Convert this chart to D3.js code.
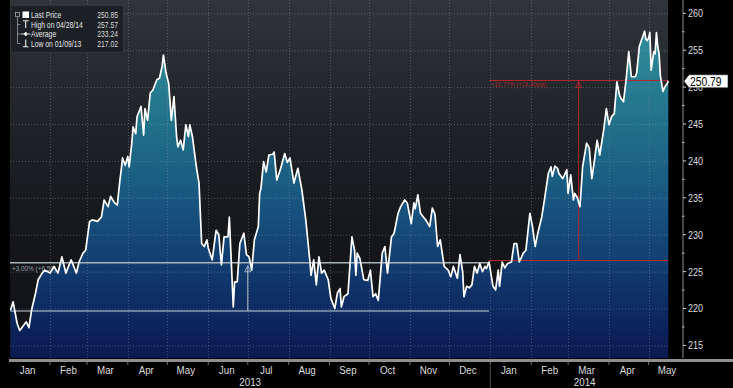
<!DOCTYPE html>
<html lang="en">
<head>
<meta charset="UTF-8">
<title>Last Price 2013-2014</title>
<script src="https://cdn.jsdelivr.net/npm/d3@7"></script>
<style>
    body { margin: 0; background: #000; }
    svg {
        display: block;
        font-family: "Liberation Sans", Arial, sans-serif;
    }
</style>
</head>
<body>
<svg id="chart" width="733" height="388"></svg>
<script>
    // daily closes
    const dates = [
        "2013-01-02","2013-01-04","2013-01-07","2013-01-09","2013-01-11","2013-01-14","2013-01-16","2013-01-18",
        "2013-01-21","2013-01-23","2013-01-26","2013-01-28","2013-02-01","2013-02-04","2013-02-07","2013-02-10",
        "2013-02-13","2013-02-17","2013-02-21","2013-02-23","2013-02-26","2013-02-28","2013-03-03","2013-03-05",
        "2013-03-09","2013-03-12","2013-03-14","2013-03-17","2013-03-19","2013-03-22","2013-03-24","2013-03-26",
        "2013-03-27","2013-03-28","2013-03-30","2013-04-01","2013-04-02","2013-04-04","2013-04-05","2013-04-07",
        "2013-04-08","2013-04-10","2013-04-11","2013-04-13","2013-04-14","2013-04-16","2013-04-18","2013-04-20",
        "2013-04-23","2013-04-25","2013-04-27","2013-04-28","2013-04-30","2013-05-02","2013-05-04","2013-05-06",
        "2013-05-08","2013-05-09","2013-05-11","2013-05-13","2013-05-15","2013-05-17","2013-05-18","2013-05-20",
        "2013-05-23","2013-05-25","2013-05-26","2013-05-27","2013-05-29","2013-05-31","2013-06-01","2013-06-04",
        "2013-06-06","2013-06-07","2013-06-09","2013-06-11","2013-06-13","2013-06-16","2013-06-17","2013-06-20",
        "2013-06-21","2013-06-23","2013-06-25","2013-06-28","2013-06-30","2013-07-02","2013-07-04","2013-07-06",
        "2013-07-09","2013-07-10","2013-07-11","2013-07-13","2013-07-15","2013-07-17","2013-07-20","2013-07-21",
        "2013-07-23","2013-07-26","2013-07-29","2013-07-31","2013-08-02","2013-08-05","2013-08-08","2013-08-11",
        "2013-08-14","2013-08-17","2013-08-18","2013-08-20","2013-08-22","2013-08-24","2013-08-26","2013-08-28",
        "2013-08-31","2013-09-02","2013-09-05","2013-09-07","2013-09-09","2013-09-10","2013-09-12","2013-09-15",
        "2013-09-18","2013-09-20","2013-09-21","2013-09-22","2013-09-24","2013-09-27","2013-09-30","2013-10-02",
        "2013-10-04","2013-10-06","2013-10-08","2013-10-11","2013-10-13","2013-10-15","2013-10-18","2013-10-20",
        "2013-10-23","2013-10-25","2013-10-28","2013-10-30","2013-11-02","2013-11-04","2013-11-05","2013-11-07",
        "2013-11-09","2013-11-13","2013-11-16","2013-11-18","2013-11-20","2013-11-22","2013-11-24","2013-11-27",
        "2013-11-30","2013-12-02","2013-12-04","2013-12-07","2013-12-09","2013-12-11","2013-12-12","2013-12-14",
        "2013-12-16","2013-12-18","2013-12-20","2013-12-22","2013-12-24","2013-12-26","2013-12-28","2013-12-29",
        "2013-12-31","2014-01-03","2014-01-05","2014-01-07","2014-01-08","2014-01-10","2014-01-12","2014-01-14",
        "2014-01-17","2014-01-19","2014-01-21","2014-01-23","2014-01-26","2014-01-28","2014-01-31","2014-02-02",
        "2014-02-04","2014-02-06","2014-02-09","2014-02-11","2014-02-14","2014-02-16","2014-02-17","2014-02-19",
        "2014-02-21","2014-02-22","2014-02-25","2014-02-28","2014-03-01","2014-03-03","2014-03-05","2014-03-06",
        "2014-03-08","2014-03-10","2014-03-12","2014-03-15","2014-03-17","2014-03-19","2014-03-21","2014-03-23",
        "2014-03-25","2014-03-28","2014-03-30","2014-04-01","2014-04-03","2014-04-05","2014-04-07","2014-04-09",
        "2014-04-10","2014-04-12","2014-04-14","2014-04-16","2014-04-18","2014-04-21","2014-04-22","2014-04-24",
        "2014-04-28","2014-04-29","2014-04-30","2014-05-01","2014-05-02","2014-05-03","2014-05-05","2014-05-06",
        "2014-05-07","2014-05-08","2014-05-09","2014-05-10","2014-05-12","2014-05-13","2014-05-14","2014-05-15",
        "2014-05-16"
    ];
    const prices = [
        219.8, 220.9, 218.0, 217.02, 217.5, 218.2, 217.4, 219.8,
        222.1, 223.9, 224.8, 225.2, 224.8, 225.7, 224.8, 227.0,
        224.8, 226.6, 224.8, 226.3, 227.5, 227.9, 231.8, 232.0,
        231.8, 232.4, 234.7, 233.8, 235.2, 234.3, 234.0, 237.4,
        238.8, 240.4, 239.4, 240.6, 239.2, 242.4, 244.6, 243.7,
        246.0, 246.9, 247.4, 243.5, 247.1, 245.5, 249.2, 249.6,
        251.0, 251.2, 252.8, 254.35, 251.9, 250.5, 245.5, 248.7,
        243.3, 241.9, 242.8, 241.5, 244.9, 243.3, 244.9, 243.3,
        239.2, 237.0, 232.9, 228.8, 228.4, 229.3, 228.2, 226.6,
        229.3, 230.6, 230.0, 225.9, 229.7, 229.7, 232.4, 220.2,
        223.6, 223.6, 228.8, 230.2, 227.3, 227.0, 225.2, 229.3,
        231.1, 235.6, 236.3, 239.9, 238.5, 240.8, 240.9, 241.2,
        237.4, 239.0, 241.0, 239.8, 240.4, 237.0, 239.0, 236.1,
        232.0, 226.6, 224.5, 226.6, 223.2, 227.0, 224.8, 225.2,
        223.9, 221.4, 220.0, 222.1, 222.7, 220.2, 221.6, 222.0,
        229.7, 227.9, 224.5, 227.5, 226.8, 223.9, 223.8, 225.2,
        221.6, 222.0, 221.1, 227.5, 228.4, 224.8, 229.7, 230.2,
        232.9, 233.8, 234.7, 234.3, 231.5, 234.3, 233.5, 235.4,
        232.9, 232.0, 231.1, 233.6, 232.8, 228.4, 229.3, 225.7,
        225.2, 224.3, 225.7, 224.1, 227.3, 225.0, 221.6, 223.0,
        222.8, 223.2, 225.7, 224.8, 226.1, 225.0, 225.7, 225.4,
        226.3, 223.0, 222.5, 225.2, 223.0, 226.3, 225.5, 226.1,
        226.3, 228.8, 228.8, 226.3, 227.5, 227.9, 232.9, 231.1,
        228.4, 230.2, 232.4, 234.7, 238.3, 239.2, 237.9, 239.3,
        239.0, 238.3, 237.6, 238.8, 235.6, 238.1, 234.7, 235.6,
        235.0, 233.8, 239.2, 242.4, 241.8, 237.6, 240.1, 242.8,
        240.8, 244.2, 247.1, 244.9, 246.0, 246.4, 250.7, 248.9,
        248.5, 248.0, 251.0, 254.8, 251.4, 251.4, 251.9, 255.5,
        257.57, 256.5, 256.3, 256.6, 257.4, 252.3, 254.8, 254.5,
        257.4, 255.5, 254.5, 251.5, 249.4, 249.9, 250.2, 250.4,
        250.85
    ];

    const yTicks = [215, 220, 225, 230, 235, 240, 245, 250, 255, 260];
    const monthLabels = ["Jan", "Feb", "Mar", "Apr", "May", "Jun", "Jul", "Aug", "Sep", "Oct", "Nov", "Dec",
                         "Jan", "Feb", "Mar", "Apr", "May"];
    const yearLabels = ["2013", "2014"];
    const legendNames = ["Last Price", "High on 04/28/14", "Average", "Low on 01/09/13"];
    const legendValues = ["250.85", "257.57", "233.24", "217.02"];
    const lastTag = 250.79;

    // measurement tools drawn on the chart: [start date, end date, marker date, low, high, label]
    const whiteMeasure = ["2013-01-02", "2013-12-31", "2013-07-01", 219.66, 226.2, "+3.00% (+6.59)"];
    const redMeasure = ["2013-12-31", "2014-05-16", "2014-03-09", 226.5, 250.9, "+10.77% (+24.40pts)"];

    const parse = d3.timeParse("%Y-%m-%d");
    const data = dates.map((d, i) => ({date: parse(d), value: prices[i]}));

    const svg = d3.select("#chart");
    const plotLeft = 10, plotRight = 668, plotBottom = 358, axisX = 683;

    // the terminal font is narrow, squeeze the regular one
    const narrow = (px, py, k) => `translate(${px},${py}) scale(${k},1)`;

    const x = d3.scaleTime()
        .domain([parse(dates[0]), parse(dates[dates.length - 1])])
        .range([10.5, 668.3]);
    const y = d3.scaleLinear()
        .domain([215, 260])
        .range([345.4, 13.3]);

    // gradients
    const defs = svg.append("defs");
    const bgGrad = defs.append("linearGradient").attr("id", "bgGrad")
        .attr("gradientUnits", "userSpaceOnUse")
        .attr("x1", 0).attr("y1", 0).attr("x2", 0).attr("y2", plotBottom);
    [[0, "#30353a"], [0.18, "#272b30"], [0.45, "#1b1e22"], [0.7, "#141619"], [1, "#101215"]]
        .forEach(s => bgGrad.append("stop").attr("offset", s[0]).attr("stop-color", s[1]));

    const areaGrad = defs.append("linearGradient").attr("id", "areaGrad")
        .attr("gradientUnits", "userSpaceOnUse")
        .attr("x1", 0).attr("y1", 0).attr("x2", 0).attr("y2", plotBottom);
    [[0, "#3698a3"], [0.15, "#2c8796"], [0.35, "#21708a"], [0.55, "#185780"], [0.72, "#123f72"],
     [0.86, "#0d2b62"], [1, "#0a1a50"]]
        .forEach(s => areaGrad.append("stop").attr("offset", s[0]).attr("stop-color", s[1]));

    // plot background
    svg.append("rect")
        .attr("x", plotLeft).attr("y", 0)
        .attr("width", plotRight - plotLeft).attr("height", plotBottom)
        .attr("fill", "url(#bgGrad)");

    // area under the price line
    const area = d3.area()
        .x(d => x(d.date))
        .y0(plotBottom)
        .y1(d => y(d.value));
    svg.append("path")
        .datum(data)
        .attr("d", area)
        .attr("fill", "url(#areaGrad)");

    // dotted grid
    const grid = svg.append("g")
        .attr("stroke", "#8a9098")
        .attr("stroke-opacity", 0.45)
        .attr("stroke-dasharray", "1,2");
    grid.selectAll("line.h")
        .data(yTicks)
        .enter().append("line")
        .attr("x1", plotLeft).attr("x2", plotRight)
        .attr("y1", d => y(d) + 0.5).attr("y2", d => y(d) + 0.5);
    const monthStarts = d3.timeMonth.range(parse("2013-02-01"), parse("2014-05-02"));
    grid.selectAll("line.v")
        .data(monthStarts)
        .enter().append("line")
        .attr("x1", d => Math.round(x(d)) + 0.5).attr("x2", d => Math.round(x(d)) + 0.5)
        .attr("y1", 0).attr("y2", plotBottom);

    // white measurement (+3.00%)
    const wm = svg.append("g");
    wm.append("line")
        .attr("x1", plotLeft).attr("x2", x(parse(whiteMeasure[1])))
        .attr("y1", y(whiteMeasure[4])).attr("y2", y(whiteMeasure[4]))
        .attr("stroke", "#a9b1b9").attr("stroke-width", 1.6);
    wm.append("line")
        .attr("x1", plotLeft).attr("x2", x(parse(whiteMeasure[1])))
        .attr("y1", y(whiteMeasure[3])).attr("y2", y(whiteMeasure[3]))
        .attr("stroke", "#c8d2dc").attr("stroke-width", 1);
    const wx = x(parse(whiteMeasure[2]));
    wm.append("line")
        .attr("x1", wx).attr("x2", wx)
        .attr("y1", y(whiteMeasure[3])).attr("y2", y(whiteMeasure[4]) + 3)
        .attr("stroke", "#b8c2cc").attr("stroke-width", 1);
    wm.append("path")
        .attr("d", `M${wx},${y(whiteMeasure[4]) + 3}l-3,6h6z`)
        .attr("fill", "none").attr("stroke", "#b8c2cc").attr("stroke-width", 0.8);
    wm.append("text")
        .attr("transform", narrow(12, y(whiteMeasure[4]) + 8, 0.85))
        .attr("font-size", 7.5).attr("fill", "#9aa2aa")
        .text(whiteMeasure[5]);

    // red measurement (+10.77%)
    const rm = svg.append("g").attr("stroke", "#b8262c").attr("stroke-width", 1);
    [redMeasure[3], redMeasure[4]].forEach(v => {
        rm.append("line")
            .attr("x1", x(parse(redMeasure[0]))).attr("x2", x(parse(redMeasure[1])))
            .attr("y1", y(v)).attr("y2", y(v));
    });
    const rx = x(parse(redMeasure[2]));
    rm.append("line")
        .attr("x1", rx).attr("x2", rx)
        .attr("y1", y(redMeasure[3])).attr("y2", y(redMeasure[4]));
    rm.append("path")
        .attr("d", `M${rx},${y(redMeasure[4]) + 1}l-3,6h6z`)
        .attr("fill", "none").attr("stroke-width", 0.8);
    svg.append("text")
        .attr("transform", narrow(x(parse(redMeasure[0])) + 2, y(redMeasure[4]) + 7, 0.85))
        .attr("font-size", 7).attr("fill", "#a3262b")
        .text(redMeasure[5]);

    // price line
    const line = d3.line()
        .x(d => x(d.date))
        .y(d => y(d.value));
    svg.append("path")
        .datum(data)
        .attr("d", line)
        .attr("fill", "none")
        .attr("stroke", "#ffffff")
        .attr("stroke-width", 1.7)
        .attr("stroke-linejoin", "round");

    // right axis
    const axis = svg.append("g");
    axis.append("line")
        .attr("x1", axisX).attr("x2", axisX)
        .attr("y1", 0).attr("y2", plotBottom)
        .attr("stroke", "#8c8c8c");
    axis.selectAll("line.major")
        .data(yTicks)
        .enter().append("line")
        .attr("x1", axisX).attr("x2", axisX + 3)
        .attr("y1", d => y(d)).attr("y2", d => y(d))
        .attr("stroke", "#cfcfcf");
    axis.selectAll("line.minor")
        .data(yTicks.slice(0, -1).map(d => d + 2.5))
        .enter().append("line")
        .attr("x1", axisX - 1).attr("x2", axisX + 1.5)
        .attr("y1", d => y(d)).attr("y2", d => y(d))
        .attr("stroke", "#bdbdbd");
    axis.selectAll("text")
        .data(yTicks)
        .enter().append("text")
        .attr("transform", d => narrow(axisX + 5, y(d), 0.82))
        .attr("dy", "0.36em")
        .attr("font-size", 11)
        .attr("fill", "#dcdcdc")
        .text(d => d);

    // last price tag
    const ty = y(lastTag);
    svg.append("path")
        .attr("d", `M${axisX + 1},${ty} L${axisX + 6},${ty - 6.5} H728 V${ty + 6.5} H${axisX + 6} Z`)
        .attr("fill", "#ffffff").attr("stroke", "#222").attr("stroke-width", 0.6);
    svg.append("text")
        .attr("transform", narrow(axisX + 7, ty, 0.86))
        .attr("dy", "0.36em")
        .attr("font-size", 12)
        .attr("fill", "#000")
        .text(lastTag.toFixed(2));

    // bottom axis
    svg.append("rect")
        .attr("x", 9).attr("y", plotBottom + 1)
        .attr("width", 724).attr("height", 3)
        .attr("fill", "#8f8f8f");
    svg.append("g")
        .selectAll("line")
        .data(monthStarts)
        .enter().append("line")
        .attr("x1", d => x(d)).attr("x2", d => x(d))
        .attr("y1", plotBottom + 4).attr("y2", plotBottom + 7)
        .attr("stroke", "#6c6c6c");
    const monthMids = d3.timeMonth.range(parse("2013-01-01"), parse("2014-05-02"))
        .map(d => d3.timeDay.offset(d, 14));
    svg.append("g")
        .selectAll("text")
        .data(monthMids)
        .enter().append("text")
        .attr("transform", d => narrow(x(d), 374, 0.85))
        .attr("text-anchor", "middle")
        .attr("font-size", 11.5)
        .attr("fill", "#dcdcdc")
        .text((d, i) => monthLabels[i]);
    svg.append("line")
        .attr("x1", x(parse("2014-01-01"))).attr("x2", x(parse("2014-01-01")))
        .attr("y1", 366).attr("y2", 388)
        .attr("stroke", "#4a4a4a");
    svg.append("g")
        .selectAll("text")
        .data([[plotLeft, x(parse("2014-01-01"))], [x(parse("2014-01-01")), axisX - 4]])
        .enter().append("text")
        .attr("transform", d => narrow((d[0] + d[1]) / 2, 386, 0.85))
        .attr("text-anchor", "middle")
        .attr("font-size", 11.5)
        .attr("fill", "#dcdcdc")
        .text((d, i) => yearLabels[i]);

    // legend box
    const legend = svg.append("g");
    legend.append("rect")
        .attr("x", 10.5).attr("y", 5.5)
        .attr("width", 113).attr("height", 47)
        .attr("rx", 2)
        .attr("fill", "#1c2024")
        .attr("stroke", "#30363b");
    const rowY = [15, 24.5, 34, 43.5];
    legend.append("path")
        .attr("d", "M17.5,17V43.5M17.5,24.5H20.5M17.5,34H20.5M17.5,43.5H20.5")
        .attr("stroke", "#9a9a9a").attr("stroke-width", 0.8).attr("fill", "none");
    legend.append("rect")
        .attr("x", 15.5).attr("y", 12.5).attr("width", 4).attr("height", 4)
        .attr("fill", "none").attr("stroke", "#bbb").attr("stroke-width", 0.7);
    legend.append("rect")
        .attr("x", 22.5).attr("y", 11.5).attr("width", 6.5).attr("height", 6.5)
        .attr("fill", "#ffffff");
    legend.append("path")
        .attr("d", "M23,20.8H28.5M25.7,20.8V28")
        .attr("stroke", "#eee").attr("stroke-width", 1.1).attr("fill", "none");
    legend.append("path")
        .attr("d", "M21,34H30.5M25.7,32L27.2,34L25.7,36L24.2,34Z")
        .attr("stroke", "#eee").attr("stroke-width", 0.9).attr("fill", "#eee");
    legend.append("path")
        .attr("d", "M25.7,39.5V46.8M23,46.8H28.5")
        .attr("stroke", "#eee").attr("stroke-width", 1.1).attr("fill", "none");
    legend.selectAll("text.name")
        .data(legendNames)
        .enter().append("text")
        .attr("transform", (d, i) => narrow(31, rowY[i], 0.8))
        .attr("dy", "0.36em")
        .attr("font-size", 8.5)
        .attr("fill", "#e4e4e4")
        .text(d => d);
    legend.selectAll("text.value")
        .data(legendValues)
        .enter().append("text")
        .attr("transform", (d, i) => narrow(118, rowY[i], 0.8))
        .attr("dy", "0.36em")
        .attr("text-anchor", "end")
        .attr("font-size", 8.5)
        .attr("fill", "#d8d8d8")
        .text(d => d);
</script>
</body>
</html>
